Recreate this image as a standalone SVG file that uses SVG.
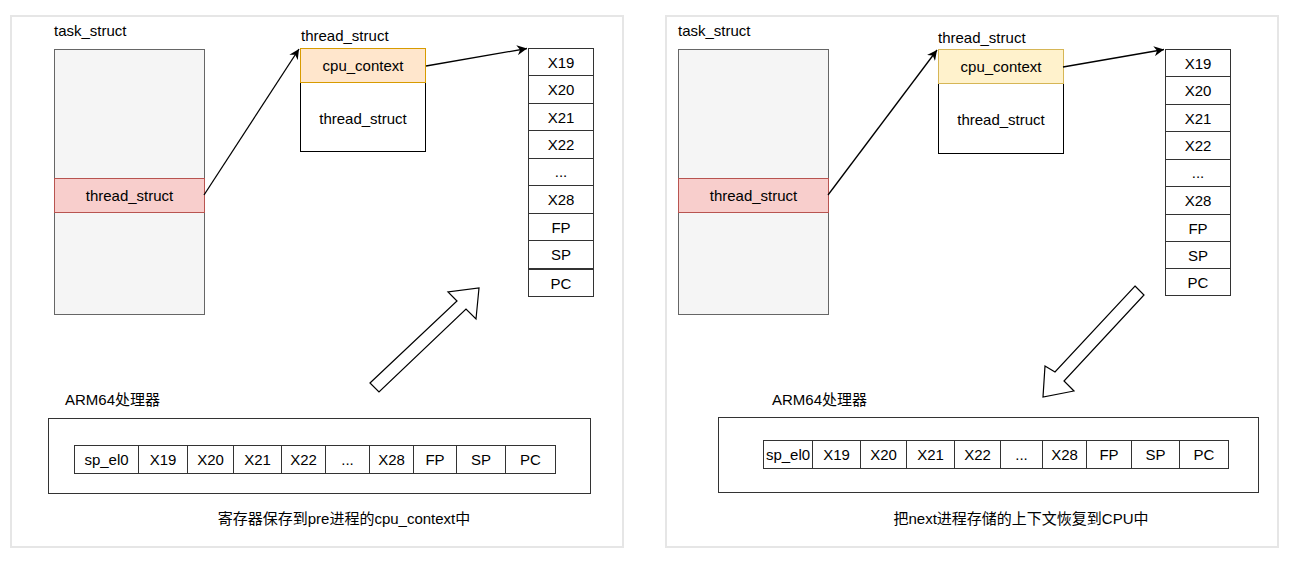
<svg xmlns="http://www.w3.org/2000/svg" width="1293" height="568" viewBox="0 0 1293 568">
<defs>
<marker id="ah" markerWidth="12" markerHeight="10" refX="10" refY="5" orient="auto" markerUnits="userSpaceOnUse">
<path d="M0,0 L10,5 L0,10 L3,5 Z" fill="#000"/>
</marker>
<style>
text{font-family:"Liberation Sans",Arial,"Noto Sans CJK SC",sans-serif;font-size:15px;fill:#000}
.c{text-anchor:middle}
.frame{fill:#fff;stroke:#e6e6e6;stroke-width:2}
.task{fill:#f5f5f5;stroke:#666;stroke-width:1}
.red{fill:#f8cecc;stroke:#b85450;stroke-width:1}
.org{fill:#ffe6cc;stroke:#d79b00;stroke-width:1}
.yel{fill:#fff2cc;stroke:#d6b656;stroke-width:1}
.box{fill:#fff;stroke:#000;stroke-width:1}
.reg{fill:#fff;stroke:#333;stroke-width:1}
.edge{fill:none;stroke:#000;stroke-width:1.3;marker-end:url(#ah)}
.big{fill:#fff;stroke:#000;stroke-width:1.2;stroke-linejoin:miter}
</style>
</defs>
<rect width="1293" height="568" fill="#fff"/>
<rect class="frame" x="11" y="16" width="612" height="531"/>
<rect class="frame" x="666" y="16" width="612" height="531"/>

<!-- LEFT PANEL -->
<g id="l-task">
<text x="54" y="36">task_struct</text>
<rect class="task" x="54.5" y="49.5" width="150" height="265"/>
</g>
<g id="l-thread-field">
<rect class="red" x="54.5" y="178.5" width="150" height="34"/>
<text class="c" x="129.5" y="201">thread_struct</text>
</g>
<g id="l-thread">
<text x="301" y="41">thread_struct</text>
<rect class="box" x="300.5" y="82.5" width="125" height="69"/>
<text class="c" x="363" y="124">thread_struct</text>
</g>
<g id="l-cpu">
<rect class="org" x="300.5" y="48.5" width="125" height="34"/>
<text class="c" x="363" y="71">cpu_context</text>
</g>
<g id="l-regs">
<rect class="reg" x="528.5" y="48.5" width="65" height="27"/><text class="c" x="561" y="68">X19</text>
<rect class="reg" x="528.5" y="75.5" width="65" height="28"/><text class="c" x="561" y="95">X20</text>
<rect class="reg" x="528.5" y="103.5" width="65" height="27"/><text class="c" x="561" y="123">X21</text>
<rect class="reg" x="528.5" y="130.5" width="65" height="28"/><text class="c" x="561" y="150">X22</text>
<rect class="reg" x="528.5" y="158.5" width="65" height="27"/><text class="c" x="561" y="177">...</text>
<rect class="reg" x="528.5" y="185.5" width="65" height="28"/><text class="c" x="561" y="205">X28</text>
<rect class="reg" x="528.5" y="213.5" width="65" height="27"/><text class="c" x="561" y="233">FP</text>
<rect class="reg" x="528.5" y="240.5" width="65" height="28"/><text class="c" x="561" y="260">SP</text>
<rect class="reg" x="528.5" y="269.5" width="65" height="27"/><text class="c" x="561" y="289">PC</text>
</g>
<g id="l-cpu-reg">
<text x="65" y="405">ARM64处理器</text>
<rect class="reg" x="48.5" y="418.5" width="542" height="75"/>
<rect class="reg" x="74.5" y="445.5" width="64" height="28"/><text class="c" x="106.5" y="465">sp_el0</text>
<rect class="reg" x="138.5" y="445.5" width="49" height="28"/><text class="c" x="163" y="465">X19</text>
<rect class="reg" x="187.5" y="445.5" width="46" height="28"/><text class="c" x="210.5" y="465">X20</text>
<rect class="reg" x="233.5" y="445.5" width="48" height="28"/><text class="c" x="257.5" y="465">X21</text>
<rect class="reg" x="281.5" y="445.5" width="44" height="28"/><text class="c" x="303.5" y="465">X22</text>
<rect class="reg" x="325.5" y="445.5" width="44" height="28"/><text class="c" x="347.5" y="465">...</text>
<rect class="reg" x="369.5" y="445.5" width="44" height="28"/><text class="c" x="391.5" y="465">X28</text>
<rect class="reg" x="413.5" y="445.5" width="43" height="28"/><text class="c" x="435" y="465">FP</text>
<rect class="reg" x="456.5" y="445.5" width="49" height="28"/><text class="c" x="481" y="465">SP</text>
<rect class="reg" x="505.5" y="445.5" width="50" height="28"/><text class="c" x="530.5" y="465">PC</text>
</g>
<g id="l-caption">
<text class="c" x="344" y="524">寄存器保存到pre进程的cpu_context中</text>
</g>
<g id="l-bigarrow">
<polygon class="big" points="370,383 457,301 448,292 479,288 476,319 466,309 379,392"/>
</g>

<!-- RIGHT PANEL -->
<g id="r-task">
<text x="678" y="36">task_struct</text>
<rect class="task" x="678.5" y="49.5" width="150" height="265"/>
</g>
<g id="r-thread-field">
<rect class="red" x="678.5" y="178.5" width="150" height="34"/>
<text class="c" x="753.5" y="201">thread_struct</text>
</g>
<g id="r-thread">
<text x="938" y="43">thread_struct</text>
<rect class="box" x="938.5" y="83.5" width="125" height="70"/>
<text class="c" x="1001" y="125">thread_struct</text>
</g>
<g id="r-cpu">
<rect class="yel" x="938.5" y="49.5" width="125" height="34"/>
<text class="c" x="1001" y="72">cpu_context</text>
</g>
<g id="r-regs">
<rect class="reg" x="1165.5" y="49.5" width="65" height="27"/><text class="c" x="1198" y="69">X19</text>
<rect class="reg" x="1165.5" y="76.5" width="65" height="28"/><text class="c" x="1198" y="96">X20</text>
<rect class="reg" x="1165.5" y="104.5" width="65" height="27"/><text class="c" x="1198" y="124">X21</text>
<rect class="reg" x="1165.5" y="131.5" width="65" height="28"/><text class="c" x="1198" y="151">X22</text>
<rect class="reg" x="1165.5" y="159.5" width="65" height="27"/><text class="c" x="1198" y="178">...</text>
<rect class="reg" x="1165.5" y="186.5" width="65" height="28"/><text class="c" x="1198" y="206">X28</text>
<rect class="reg" x="1165.5" y="214.5" width="65" height="27"/><text class="c" x="1198" y="234">FP</text>
<rect class="reg" x="1165.5" y="241.5" width="65" height="27"/><text class="c" x="1198" y="261">SP</text>
<rect class="reg" x="1165.5" y="268.5" width="65" height="27"/><text class="c" x="1198" y="288">PC</text>
</g>
<g id="r-cpu-reg">
<text x="772" y="405">ARM64处理器</text>
<rect class="reg" x="718.5" y="417.5" width="540" height="75"/>
<rect class="reg" x="763.5" y="440.5" width="49" height="28"/><text class="c" x="788" y="460">sp_el0</text>
<rect class="reg" x="812.5" y="440.5" width="48" height="28"/><text class="c" x="836.5" y="460">X19</text>
<rect class="reg" x="860.5" y="440.5" width="46" height="28"/><text class="c" x="883.5" y="460">X20</text>
<rect class="reg" x="906.5" y="440.5" width="48" height="28"/><text class="c" x="930.5" y="460">X21</text>
<rect class="reg" x="954.5" y="440.5" width="46" height="28"/><text class="c" x="977.5" y="460">X22</text>
<rect class="reg" x="1000.5" y="440.5" width="42" height="28"/><text class="c" x="1021.5" y="460">...</text>
<rect class="reg" x="1042.5" y="440.5" width="44" height="28"/><text class="c" x="1064.5" y="460">X28</text>
<rect class="reg" x="1086.5" y="440.5" width="45" height="28"/><text class="c" x="1109" y="460">FP</text>
<rect class="reg" x="1131.5" y="440.5" width="48" height="28"/><text class="c" x="1155.5" y="460">SP</text>
<rect class="reg" x="1179.5" y="440.5" width="49" height="28"/><text class="c" x="1204" y="460">PC</text>
</g>
<g id="r-caption">
<text class="c" x="1021" y="524">把next进程存储的上下文恢复到CPU中</text>
</g>
<g id="r-bigarrow">
<polygon class="big" points="1135,286 1144,295 1064,381 1074,391 1043,397 1045,366 1055,372"/>
</g>

<g id="connectors">
<line class="edge" x1="204" y1="195" x2="299" y2="49"/>
<line class="edge" x1="426" y1="66" x2="527" y2="48.5"/>
<line class="edge" x1="828" y1="195" x2="937" y2="50"/>
<line class="edge" x1="1063" y1="67" x2="1164" y2="49.5"/>
</g>
</svg>
